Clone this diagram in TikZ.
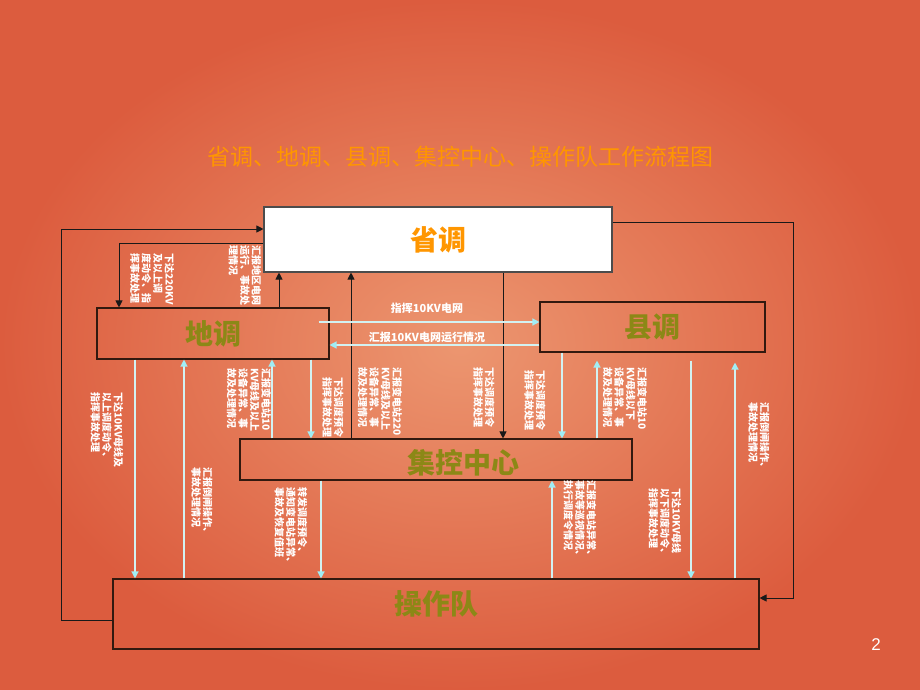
\documentclass[tikz,border=0pt]{standalone}
\usepackage{fontspec}
\setmainfont{Noto Sans CJK SC}
\newfontfamily\numfont{Liberation Sans}
\usetikzlibrary{arrows.meta,calc}
\definecolor{bgin}{RGB}{236,150,112}
\definecolor{bgout}{RGB}{220,92,62}
\definecolor{boxline}{RGB}{50,25,15}
\definecolor{nodeolive}{RGB}{140,136,22}
\definecolor{titleorange}{RGB}{255,150,0}
\definecolor{cyanline}{RGB}{210,242,242}
\definecolor{cyantip}{RGB}{160,238,245}
\tikzset{
  box/.style={draw=boxline, line width=1.1pt, inner sep=0pt},
  big/.style={font=\bfseries\fontsize{28}{30}\selectfont, text=nodeolive},
  vlab/.style={rotate=-90, anchor=west, text=white, font=\bfseries\fontsize{10}{11.5}\selectfont, align=left, inner sep=0pt},
  blk/.style={draw=black!90, line width=0.9pt, -{Triangle[length=7pt,width=7pt]}},
  cya/.style={draw=cyanline, line width=1.3pt, -{Triangle[length=7pt,width=7pt,color=cyantip]}},
}
\begin{document}
\begin{tikzpicture}[x=1pt,y=-1pt]
\useasboundingbox (0,0) rectangle (920,690);
\shade[inner color=bgin, outer color=bgout] (0,0) rectangle (920,690);

% title
\node[font=\fontsize{23}{25}\selectfont, text=titleorange] (title) at (460,157) {省调、地调、县调、集控中心、操作队工作流程图};

% nodes
\node[box, fill=white, draw=black!70, minimum width=348pt, minimum height=65pt,
      font=\bfseries\fontsize{28}{30}\selectfont, text=titleorange] (sd) at (438,239.5) {省调};
\node[box, minimum width=232pt, minimum height=51pt, big] (dd) at (213,333.5) {地调};
\node[box, minimum width=225pt, minimum height=50pt, big] (xd) at (652.5,327) {县调};
\node[box, minimum width=392pt, minimum height=41pt,
      label={[big, xshift=27pt, yshift=-3pt]center:集控中心}] (jk) at (436,459.5) {};
\node[box, minimum width=646pt, minimum height=70pt,
      label={[big, yshift=10pt]center:操作队}] (cz) at (436,614) {};

% black connectors (province dispatch)
\draw[blk] (cz.west |- 0,620) -- ++(-51,0) |- (sd.west |- 0,229);
\draw[blk] (sd.east |- 0,222) -- ++(181,0) |- (cz.east |- 0,598);
\draw[blk] (sd.west |- 0,243) -| (dd.north -| 119,0);
\draw[blk] (dd.north -| 279,0) -- (sd.south -| 279,0);
\draw[blk] (sd.south -| 503,0) -- (jk.north -| 503,0);
\draw[blk] (jk.north -| 351,0) -- (sd.south -| 351,0);

% cyan connectors
\draw[cya] ([xshift=-11pt]dd.east |- 0,322) -- (xd.west |- 0,322);
\draw[cya] (xd.west |- 0,345) -- (dd.east |- 0,345);
\draw[cya] (dd.south -| 311,0) -- (jk.north -| 311,0);
\draw[cya] (jk.north -| 272,0) -- (dd.south -| 272,0);
\draw[cya] (xd.south -| 562,0) -- (jk.north -| 562,0);
\draw[cya, shorten >=8pt] (jk.north -| 597,0) -- (xd.south -| 597,0);
\draw[cya, shorten <=8pt] (xd.south -| 691,0) -- (cz.north -| 691,0);
\draw[cya, shorten >=10pt] (cz.north -| 735,0) -- (xd.south -| 735,0);
\draw[cya] (dd.south -| 135,0) -- (cz.north -| 135,0);
\draw[cya] (cz.north -| 184,0) -- (dd.south -| 184,0);
\draw[cya] (jk.south -| 321,0) -- (cz.north -| 321,0);
\draw[cya] (cz.north -| 552,0) -- (jk.south -| 552,0);

% horizontal labels
\node[text=white, font=\bfseries\fontsize{11}{12}\selectfont] (l5a) at (427,308) {指挥10KV电网};
\node[text=white, font=\bfseries\fontsize{11}{12}\selectfont] (l6a) at (427,337) {汇报10KV电网运行情况};

% vertical labels
\node[vlab] (t1) at (152,253) {下达220KV\\及以上调\\度动令、指\\挥事故处理};
\node[vlab] (t2) at (245,245) {汇报地区电网\\运行、事故处\\理情况};
\node[vlab] (t3) at (249,368) {汇报变电站10\\KV母线及以上\\设备异常、事\\故及处理情况};
\node[vlab] (t4) at (333,377) {下达调度预令\\指挥事故处理};
\node[vlab] (t5) at (380,367) {汇报变电站220\\KV母线及以上\\设备异常、事\\故及处理情况};
\node[vlab] (t6) at (484,367) {下达调度预令\\指挥事故处理};
\node[vlab] (t7) at (535,370) {下达调度预令\\指挥事故处理};
\node[vlab] (t8) at (625,367) {汇报变电站10\\KV母线以下\\设备异常、事\\故及处理情况};
\node[vlab] (t9) at (759,402) {汇报倒闸操作、\\事故处理情况};
\node[vlab] (t10) at (107,392) {下达10KV母线及\\以上调度动令、\\指挥事故处理};
\node[vlab] (t11) at (202,467) {汇报倒闸操作、\\事故处理情况};
\node[vlab] (t12) at (291,487) {转发调度预令、\\通知变电站异常、\\事故及恢复值班};
\node[vlab] (t13) at (580,480) {汇报变电站异常、\\事故等巡视情况、\\执行调度令情况};
\node[vlab] (t14) at (665,488) {下达10KV母线\\以下调度动令、\\指挥事故处理};

% page number
\node[text=white, font=\numfont\fontsize{17}{18}\selectfont] (pg) at (876,645) {2};
\end{tikzpicture}
\end{document}
